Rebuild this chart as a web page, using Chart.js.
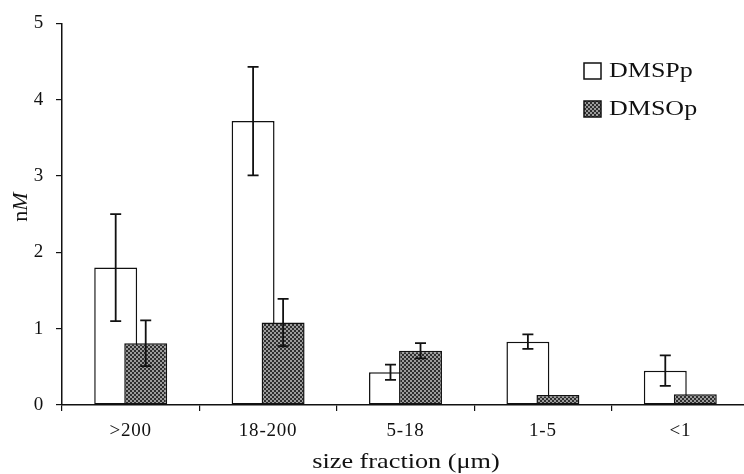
<!DOCTYPE html>
<html>
<head>
<meta charset="utf-8">
<script src="https://cdn.jsdelivr.net/npm/chart.js@4.4.1/dist/chart.umd.min.js"></script>
<style>
  html, body { margin: 0; padding: 0; background: #fff; overflow: hidden; }
  #chart { display: block; }
</style>
</head>
<body>
<canvas id="chart" width="752" height="474" style="width:752px;height:474px"></canvas>
<script>
const categories = [">200", "18-200", "5-18", "1-5", "<1"];
const dmspp = [1.8, 3.72, 0.43, 0.83, 0.45];
const dmsppErr = [0.7, 0.71, 0.1, 0.095, 0.2];
const dmsop = [0.81, 1.08, 0.71, 0.13, 0.14];
const dmsopErr = [0.3, 0.31, 0.1, 0, 0];
const yTicks = [0, 1, 2, 3, 4, 5];
const xTitle = "size fraction (\u03bcm)";

const serif = "'Liberation Serif', 'DejaVu Serif', serif";

// dotted grey fill of the DMSOp bars
function makePattern() {
  const c = document.createElement("canvas");
  c.width = 4; c.height = 4;
  const g = c.getContext("2d");
  g.fillStyle = "#9c9c9c";
  g.fillRect(0, 0, 4, 4);
  g.fillStyle = "#2e2e2e";
  g.fillRect(0, 0, 2, 2);
  g.fillRect(2, 2, 2, 2);
  return g.createPattern(c, "repeat");
}
const pattern = makePattern();

const errors = [dmsppErr, dmsopErr];

// the scanned lettering is a bit wide
const spacing = {
  id: "spacing",
  beforeUpdate(chart) { chart.ctx.letterSpacing = "0.8px"; },
  beforeDraw(chart) { chart.ctx.letterSpacing = "0.8px"; }
};

// white bars go underneath the dark ones
const layering = {
  id: "layering",
  beforeDatasetsDraw(chart) {
    chart.getDatasetMeta(0).controller.draw();
  },
  beforeDatasetDraw(chart, args) {
    if (args.index === 0) return false;
  }
};

const errorBars = {
  id: "errorBars",
  afterDatasetsDraw(chart) {
    const ctx = chart.ctx;
    const y = chart.scales.y;
    ctx.save();
    ctx.strokeStyle = "#111";
    ctx.lineWidth = 1.8;
    chart.data.datasets.forEach((ds, di) => {
      const meta = chart.getDatasetMeta(di);
      meta.data.forEach((bar, i) => {
        const e = errors[di][i];
        if (!e) return;
        const v = ds.data[i];
        const top = y.getPixelForValue(v + e);
        const bot = y.getPixelForValue(v - e);
        ctx.beginPath();
        ctx.moveTo(bar.x, top); ctx.lineTo(bar.x, bot);
        ctx.moveTo(bar.x - 5.5, top); ctx.lineTo(bar.x + 5.5, top);
        ctx.moveTo(bar.x - 5.5, bot); ctx.lineTo(bar.x + 5.5, bot);
        ctx.stroke();
      });
    });
    ctx.restore();
  }
};

const labels = {
  id: "labels",
  afterDraw(chart) {
    const ctx = chart.ctx;
    ctx.save();
    ctx.letterSpacing = "0px";
    ctx.fillStyle = "#111";
    ctx.textBaseline = "middle";

    // x title, slightly widened like the scan
    ctx.save();
    ctx.translate(406, 462);
    ctx.scale(1.25, 1);
    ctx.font = "21px " + serif;
    ctx.textAlign = "center";
    ctx.fillText(xTitle, 0, 0);
    ctx.restore();

    // y title, "n" upright and "M" italic
    ctx.save();
    ctx.translate(21, 207);
    ctx.rotate(-Math.PI / 2);
    ctx.font = "22px " + serif;
    const wn = ctx.measureText("n").width;
    ctx.font = "italic 22px " + serif;
    const wm = ctx.measureText("M").width;
    const x0 = -(wn + wm) / 2;
    ctx.font = "22px " + serif;
    ctx.fillText("n", x0, 0);
    ctx.font = "italic 22px " + serif;
    ctx.fillText("M", x0 + wn, 0);
    ctx.restore();

    // legend
    chart.data.datasets.forEach((ds, i) => {
      const cy = 71 + i * 38;
      ctx.fillStyle = ds.backgroundColor;
      ctx.fillRect(584, cy - 8, 17, 16);
      ctx.strokeStyle = "#111";
      ctx.lineWidth = 1.5;
      ctx.strokeRect(584, cy - 8, 17, 16);
      ctx.fillStyle = "#111";
      ctx.save();
      ctx.translate(609, cy + 1);
      ctx.scale(1.3, 1);
      ctx.font = "20px " + serif;
      ctx.fillText(ds.label, 0, 0);
      ctx.restore();
    });
    ctx.restore();
  }
};

new Chart(document.getElementById("chart"), {
  type: "bar",
  data: {
    labels: categories,
    datasets: [
      {
        label: "DMSPp",
        data: dmspp,
        backgroundColor: "#ffffff",
        borderColor: "#111",
        borderWidth: 1.5,
        borderSkipped: false
      },
      {
        label: "DMSOp",
        data: dmsop,
        backgroundColor: pattern,
        borderColor: "#111",
        borderWidth: 1.5,
        borderSkipped: false
      }
    ]
  },
  options: {
    responsive: false,
    animation: false,
    devicePixelRatio: 1,
    categoryPercentage: 0.437,
    barPercentage: 1.43,
    layout: { padding: { top: 20, right: 3, left: 0, bottom: 0 } },
    plugins: {
      legend: { display: false },
      tooltip: { enabled: false }
    },
    scales: {
      x: {
        afterFit(s) { s.height = 69; },
        grid: { offset: true, drawOnChartArea: false, drawTicks: true, tickLength: 6, color: "#111", lineWidth: 1.2 },
        border: { color: "#111", width: 1.5 },
        ticks: { color: "#111", font: { family: serif, size: 19 }, padding: 9 }
      },
      y: {
        min: 0,
        max: 5,
        afterFit(s) { s.width = 62; },
        afterBuildTicks(s) { s.ticks = yTicks.map(v => ({ value: v })); },
        grid: { drawOnChartArea: false, drawTicks: true, tickLength: 6, color: "#111", lineWidth: 1.2 },
        border: { color: "#111", width: 1.5 },
        ticks: { color: "#111", font: { family: serif, size: 19 }, padding: 12 }
      }
    }
  },
  plugins: [spacing, layering, errorBars, labels]
});
</script>
</body>
</html>
